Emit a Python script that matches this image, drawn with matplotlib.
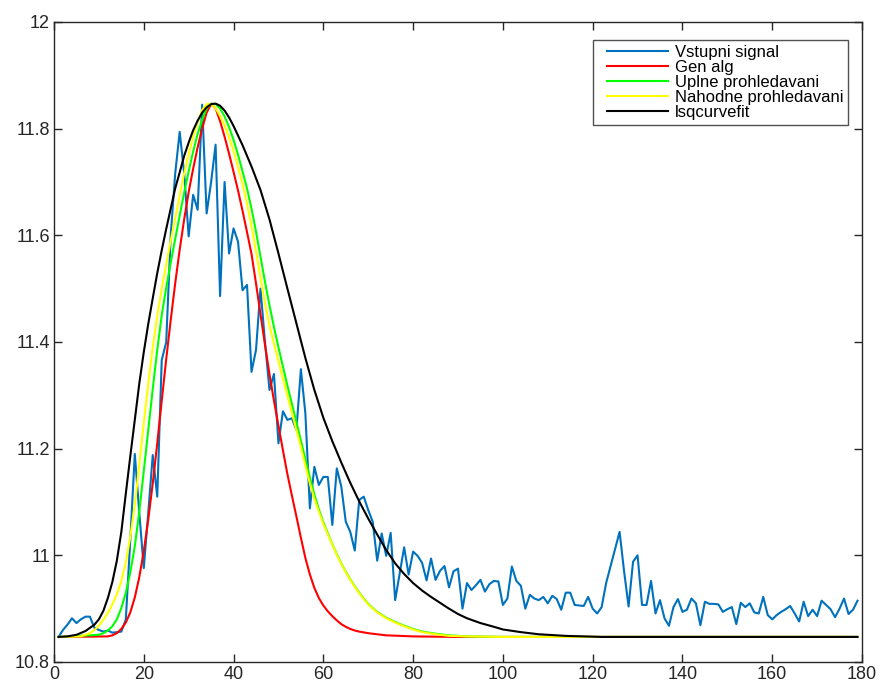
import matplotlib
matplotlib.use("Agg")
import matplotlib.pyplot as plt
from matplotlib.legend_handler import HandlerLine2D

# ---------------- data ----------------
signal_x = list(range(1, 180))
signal_y = [
    10.847, 10.860, 10.870, 10.882, 10.873, 10.880, 10.885, 10.885, 10.864, 10.860,
    10.857, 10.859, 10.855, 10.856, 10.857, 10.880, 11.030, 11.190, 11.080, 10.976,
    11.080, 11.188, 11.110, 11.366, 11.400, 11.600, 11.716, 11.794, 11.716, 11.598,
    11.676, 11.648, 11.845, 11.641, 11.700, 11.770, 11.486, 11.700, 11.566, 11.613,
    11.588, 11.497, 11.507, 11.344, 11.385, 11.500, 11.400, 11.310, 11.340, 11.210,
    11.270, 11.254, 11.257, 11.235, 11.349, 11.266, 11.088, 11.166, 11.132, 11.147,
    11.147, 11.057, 11.163, 11.129, 11.063, 11.044, 11.009, 11.104, 11.110, 11.085,
    11.063, 10.990, 11.041, 10.999, 11.042, 10.916, 10.966, 11.015, 10.964, 11.007,
    10.999, 10.986, 10.953, 10.994, 10.954, 10.971, 10.980, 10.940, 10.970, 10.975,
    10.900, 10.948, 10.935, 10.944, 10.954, 10.932, 10.946, 10.952, 10.951, 10.907,
    10.919, 10.979, 10.952, 10.943, 10.900, 10.926, 10.919, 10.916, 10.922, 10.910,
    10.924, 10.918, 10.898, 10.930, 10.930, 10.907, 10.906, 10.905, 10.922, 10.900,
    10.891, 10.903, 10.948, 10.980, 11.012, 11.044, 10.970, 10.904, 10.988, 11.000,
    10.907, 10.907, 10.952, 10.891, 10.916, 10.882, 10.868, 10.903, 10.918, 10.894,
    10.898, 10.919, 10.910, 10.869, 10.913, 10.909, 10.909, 10.908, 10.894, 10.899,
    10.903, 10.871, 10.911, 10.903, 10.910, 10.893, 10.891, 10.922, 10.888, 10.880,
    10.888, 10.894, 10.899, 10.905, 10.891, 10.876, 10.913, 10.886, 10.898, 10.886,
    10.915, 10.907, 10.899, 10.884, 10.900, 10.919, 10.890, 10.898, 10.915,
]

gen_x = [1, 12, 13, 14, 15, 16, 17, 18, 19, 20, 21, 22, 23, 24, 25, 26, 27, 28, 29, 30,
         31, 32, 33, 34, 35, 36, 37, 38, 39, 40, 41, 42, 43, 44, 45, 46, 47, 48, 49, 50,
         51, 52, 53, 54, 55, 56, 57, 58, 59, 60, 61, 62, 63, 64, 65, 66, 67, 68, 70, 74,
         80, 90, 179]
gen_y = [10.847, 10.848, 10.850, 10.854, 10.862, 10.874, 10.893, 10.921, 10.959, 11.008,
         11.067, 11.135, 11.210, 11.290, 11.368, 11.441, 11.510, 11.573, 11.630, 11.681,
         11.725, 11.765, 11.800, 11.830, 11.846, 11.838, 11.814, 11.785, 11.753, 11.719,
         11.684, 11.646, 11.606, 11.565, 11.510, 11.452, 11.395, 11.340, 11.290, 11.243,
         11.197, 11.152, 11.112, 11.073, 11.033, 10.995, 10.964, 10.939, 10.920, 10.906,
         10.895, 10.886, 10.878, 10.871, 10.866, 10.862, 10.859, 10.857, 10.854, 10.850,
         10.848, 10.847, 10.847]

uplne_x = [1, 10, 11, 12, 13, 14, 15, 16, 17, 18, 19, 20, 21, 22, 23, 24, 25, 26, 27, 28,
           29, 30, 31, 32, 33, 34, 35, 36, 37, 38, 39, 40, 41, 42, 43, 44, 45, 46, 47, 48,
           49, 50, 51, 52, 53, 54, 55, 56, 57, 58, 59, 60, 61, 62, 63, 64, 65, 66, 67, 68,
           69, 70, 71, 72, 74, 76, 78, 80, 82, 85, 88, 92, 100, 179]
uplne_y = [10.847, 10.851, 10.854, 10.859, 10.867, 10.880, 10.901, 10.930, 10.968, 11.017,
           11.082, 11.158, 11.235, 11.312, 11.385, 11.450, 11.502, 11.549, 11.593, 11.637,
           11.680, 11.720, 11.757, 11.790, 11.817, 11.838, 11.847, 11.846, 11.838, 11.823,
           11.803, 11.779, 11.751, 11.720, 11.688, 11.650, 11.607, 11.560, 11.513, 11.469,
           11.428, 11.390, 11.354, 11.318, 11.284, 11.250, 11.215, 11.180, 11.146, 11.114,
           11.086, 11.062, 11.041, 11.021, 11.002, 10.985, 10.969, 10.955, 10.942, 10.930,
           10.919, 10.909, 10.901, 10.894, 10.883, 10.875, 10.868, 10.862, 10.857, 10.853,
           10.850, 10.848, 10.847, 10.847]

nahod_x = [1, 6, 8, 9, 10, 11, 12, 13, 14, 15, 16, 17, 18, 19, 20, 21, 22, 23, 24, 25,
           26, 27, 28, 29, 30, 31, 32, 33, 34, 35, 36, 37, 38, 39, 40, 41, 42, 43, 44, 45,
           46, 47, 48, 49, 50, 51, 52, 53, 54, 55, 56, 57, 58, 59, 60, 61, 62, 63, 64, 65,
           66, 67, 68, 69, 70, 71, 72, 74, 76, 78, 80, 82, 85, 88, 92, 100, 179]
nahod_y = [10.847, 10.848, 10.854, 10.860, 10.868, 10.879, 10.892, 10.908, 10.927, 10.952,
           10.987, 11.035, 11.095, 11.170, 11.248, 11.322, 11.390, 11.448, 11.500, 11.545,
           11.590, 11.632, 11.675, 11.716, 11.752, 11.785, 11.812, 11.835, 11.846, 11.846,
           11.838, 11.824, 11.806, 11.784, 11.758, 11.728, 11.696, 11.659, 11.617, 11.570,
           11.521, 11.472, 11.431, 11.397, 11.364, 11.331, 11.299, 11.267, 11.235, 11.203,
           11.168, 11.135, 11.106, 11.082, 11.059, 11.039, 11.020, 11.001, 10.984, 10.968,
           10.954, 10.941, 10.929, 10.918, 10.908, 10.900, 10.893, 10.882, 10.874, 10.867,
           10.861, 10.856, 10.852, 10.849, 10.848, 10.847, 10.847]

lsq_x = [1, 3, 5, 7, 9, 10, 11, 12, 13, 14, 15, 16, 17, 18, 19, 20, 21, 22, 23, 24, 25,
         26, 27, 28, 29, 30, 31, 32, 33, 34, 35, 36, 37, 38, 39, 40, 42, 44, 46, 48, 50,
         52, 54, 56, 58, 60, 62, 64, 66, 68, 70, 72, 74, 76, 78, 80, 82, 84, 86, 88, 90,
         92, 95, 98, 100, 104, 108, 114, 122, 140, 179]
lsq_y = [10.847, 10.848, 10.851, 10.858, 10.870, 10.880, 10.896, 10.920, 10.950, 10.990,
         11.044, 11.116, 11.186, 11.254, 11.322, 11.381, 11.434, 11.482, 11.529, 11.572,
         11.612, 11.650, 11.688, 11.718, 11.749, 11.774, 11.797, 11.815, 11.830, 11.840,
         11.846, 11.847, 11.843, 11.834, 11.821, 11.805, 11.769, 11.729, 11.685, 11.630,
         11.566, 11.500, 11.435, 11.370, 11.310, 11.258, 11.214, 11.174, 11.136, 11.101,
         11.069, 11.039, 11.010, 10.985, 10.965, 10.948, 10.934, 10.922, 10.911, 10.900,
         10.890, 10.882, 10.873, 10.866, 10.861, 10.856, 10.852, 10.849, 10.847, 10.847,
         10.847]

labels = ["Vstupni signal", "Gen alg", "Uplne prohledavani", "Nahodne prohledavani", "lsqcurvefit"]
colors = ["#0072BD", "#FF0000", "#00FF00", "#FFFF00", "#000000"]

x_ticks = [0, 20, 40, 60, 80, 100, 120, 140, 160, 180]
y_ticks = [10.8, 11.0, 11.2, 11.4, 11.6, 11.8, 12.0]
y_tick_labels = ["10.8", "11", "11.2", "11.4", "11.6", "11.8", "12"]

# ---------------- figure ----------------
plt.rcParams['font.family'] = ['Liberation Sans', 'DejaVu Sans']
fig = plt.figure(figsize=(8.8, 6.86), dpi=100)
ax = fig.add_axes([54/880, 24/686, 808/880, 640/686])

series = [(signal_x, signal_y), (gen_x, gen_y), (uplne_x, uplne_y),
          (nahod_x, nahod_y), (lsq_x, lsq_y)]
handles = []
for (xs, ys), lab, col in zip(series, labels, colors):
    ln, = ax.plot(xs, ys, color=col, lw=1.5, label=lab, solid_joinstyle='round')
    handles.append(ln)

ax.set_xlim(0, 180)
ax.set_ylim(10.8, 12.0)
ax.set_xticks(x_ticks)
ax.set_yticks(y_ticks)
ax.set_yticklabels(y_tick_labels)
ax.tick_params(direction='in', top=True, right=True, length=6, width=1.0,
               labelsize=13, colors='#262626', pad=3)
for s in ax.spines.values():
    s.set_linewidth(1.0)
    s.set_color('#262626')

leg = ax.legend(handles=handles, loc='upper right', bbox_to_anchor=(0.9827, 0.972),
                borderaxespad=0, fontsize=12, frameon=True, fancybox=False,
                labelspacing=0.0, handlelength=4.2, handletextpad=0.42, borderpad=0.3,
                handler_map={h: HandlerLine2D(xpad=0.55) for h in handles})
leg.get_frame().set_edgecolor('#262626')
leg.get_frame().set_linewidth(1.0)

fig.savefig("out.png", dpi=100)
